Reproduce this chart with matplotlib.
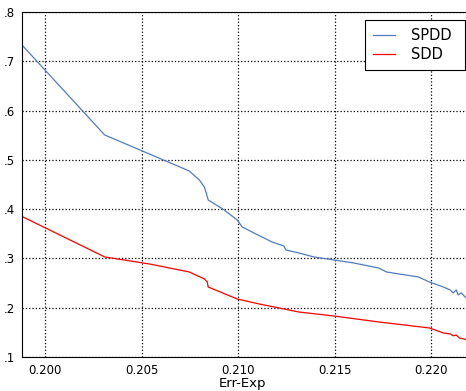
import matplotlib
matplotlib.use('Agg')
import matplotlib.pyplot as plt
from matplotlib.ticker import FuncFormatter

# values
spdd_x = [0.19881, 0.20309, 0.20747, 0.20799, 0.20825, 0.20835, 0.20845, 0.20928,
          0.20995, 0.21021, 0.21082, 0.21144, 0.21175, 0.21237, 0.21247, 0.21314,
          0.21392, 0.21495, 0.21598, 0.21727, 0.21768, 0.21933, 0.2199, 0.22062,
          0.22098, 0.22113, 0.22129, 0.22139, 0.22155, 0.2218]
spdd_y = [0.733, 0.5505, 0.4774, 0.4592, 0.445, 0.4328, 0.4186, 0.3983,
          0.378, 0.3638, 0.3516, 0.3395, 0.3334, 0.3253, 0.3172, 0.3111,
          0.303, 0.2969, 0.2908, 0.2806, 0.2725, 0.2624, 0.2522, 0.2421,
          0.236, 0.2300, 0.2360, 0.2260, 0.2300, 0.2198]

sdd_x = [0.19881, 0.20309, 0.20541, 0.20747, 0.20825, 0.2084, 0.20845, 0.20995,
         0.21108, 0.21237, 0.21314, 0.21495, 0.21727, 0.2199, 0.22062, 0.22098,
         0.22113, 0.22129, 0.22145, 0.2218]
sdd_y = [0.3851, 0.303, 0.2887, 0.2725, 0.2583, 0.2522, 0.242, 0.2177,
         0.2076, 0.1974, 0.1913, 0.1832, 0.1711, 0.1589, 0.1488, 0.1467,
         0.143, 0.1447, 0.1386, 0.1356]

x_ticks = [0.200, 0.205, 0.210, 0.215, 0.220]
y_ticks = [0.1, 0.2, 0.3, 0.4, 0.5, 0.6, 0.7, 0.8]

fig = plt.figure(figsize=(4.66, 3.91), dpi=100)
# the original plot runs a little past the right edge of the image
ax = fig.add_axes([22 / 466, 34 / 391, 452 / 466, 345 / 391])

ax.plot(spdd_x, spdd_y, color='#4f7cc0', lw=0.9, label='SPDD')
ax.plot(sdd_x, sdd_y, color='#ff0000', lw=0.9, label='SDD')

ax.set_xlim(0.19881, 0.22221)
ax.set_ylim(0.1, 0.8)
ax.set_xticks(x_ticks)
ax.set_yticks(y_ticks)
ax.xaxis.set_major_formatter(FuncFormatter(lambda v, p: '%.3f' % v))
ax.yaxis.set_major_formatter(FuncFormatter(lambda v, p: ('%.1f' % v).lstrip('0')))
ax.tick_params(length=0, labelsize=8.5, pad=5)
ax.grid(True, color='black', linestyle=':', linewidth=0.9)
ax.set_xlabel('Err-Exp', fontsize=9.5, labelpad=2)
ax.xaxis.set_label_coords(0.487, -0.058)

# legend box spans x 365..466, top at 20 px
leg = ax.legend(loc='upper left', bbox_to_anchor=(365 / 466, 0, 100 / 466, 1 - 20 / 391),
                bbox_transform=fig.transFigure, mode='expand', borderaxespad=0,
                fontsize=10.5, fancybox=False, framealpha=1, edgecolor='black',
                handlelength=1.5, handletextpad=1.1, borderpad=0.55, labelspacing=0.3)
leg.get_frame().set_linewidth(0.8)

fig.savefig('out.png', dpi=100)
